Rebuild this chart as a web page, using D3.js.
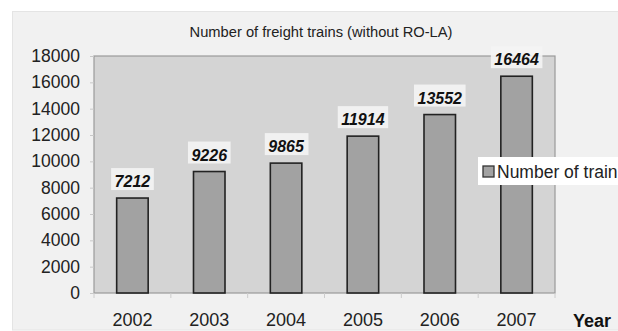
<!DOCTYPE html>
<html>
<head>
<meta charset="utf-8">
<script src="https://cdn.jsdelivr.net/npm/d3@7/dist/d3.min.js"></script>
<style>
  html, body { margin: 0; padding: 0; background: #ffffff; }
  svg { display: block; font-family: "Liberation Sans", Arial, sans-serif; }
</style>
</head>
<body>
<svg id="chart" width="618" height="331"></svg>
<script>
// Freight trains per year (without RO-LA)
const years = ["2002", "2003", "2004", "2005", "2006", "2007"];
const trains = [7212, 9226, 9865, 11914, 13552, 16464];
const yTicks = [0, 2000, 4000, 6000, 8000, 10000, 12000, 14000, 16000, 18000];
const titleText = "Number of freight trains (without RO-LA)";
const legendText = "Number of train";
const xAxisTitle = "Year";

const svg = d3.select("#chart");
const W = 618, H = 331;
const plot = { left: 94, top: 56, right: 555, bottom: 293 };

// outer panel
svg.append("rect")
  .attr("x", 12.5).attr("y", 11.5)
  .attr("width", W - 12).attr("height", H - 12.5)
  .attr("fill", "#f1f1f1")
  .attr("stroke", "#e4e4e4").attr("stroke-width", 1);

const x = d3.scaleBand().domain(years).range([plot.left, plot.right]).paddingInner(0).paddingOuter(0);
const y = d3.scaleLinear().domain([0, 18000]).range([plot.bottom, plot.top]);

// plot area
svg.append("rect")
  .attr("x", plot.left).attr("y", plot.top)
  .attr("width", plot.right - plot.left).attr("height", plot.bottom - plot.top)
  .attr("fill", "#d4d4d4")
  .attr("stroke", "#9a9a9a").attr("stroke-width", 1.2);

// title
svg.append("text")
  .attr("x", 321).attr("y", 37)
  .attr("text-anchor", "middle")
  .attr("font-size", 14.7).attr("fill", "#222")
  .text(titleText);

// y axis
const yAxis = d3.axisLeft(y).tickValues(yTicks).tickSize(4).tickPadding(10).tickFormat(d3.format("d"));
const gy = svg.append("g").attr("transform", `translate(${plot.left},0)`).call(yAxis);
gy.select(".domain").remove();
gy.selectAll(".tick line").attr("stroke", "#c8c8c8");
gy.selectAll(".tick text")
  .attr("font-size", 17.5).attr("fill", "#222")
  .attr("font-family", "'Liberation Sans', Arial, sans-serif");

// x axis
const xAxis = d3.axisBottom(x).tickSize(0).tickPadding(20);
const gx = svg.append("g").attr("transform", `translate(0,${plot.bottom})`).call(xAxis);
gx.select(".domain").remove();
gx.selectAll(".tick text")
  .attr("font-size", 18).attr("fill", "#222")
  .attr("font-family", "'Liberation Sans', Arial, sans-serif");

// small separators under the category boundaries
svg.append("g").selectAll("line")
  .data(years.concat(["end"]))
  .join("line")
  .attr("x1", (d, i) => plot.left + i * x.step())
  .attr("x2", (d, i) => plot.left + i * x.step())
  .attr("y1", plot.bottom).attr("y2", plot.bottom + 5)
  .attr("stroke", "#cccccc").attr("stroke-width", 1);

svg.append("text")
  .attr("x", 573).attr("y", 327)
  .attr("font-size", 18).attr("font-weight", "bold").attr("fill", "#111")
  .text(xAxisTitle);

// bars
const barW = x.bandwidth() * 0.41;
svg.append("g").selectAll("rect")
  .data(trains)
  .join("rect")
  .attr("x", (d, i) => x(years[i]) + (x.bandwidth() - barW) / 2)
  .attr("y", d => y(d))
  .attr("width", barW)
  .attr("height", d => y(0) - y(d))
  .attr("fill", "#a2a2a2")
  .attr("stroke", "#222").attr("stroke-width", 1.6);

// value labels on a light backing
const labels = svg.append("g").selectAll("g")
  .data(trains)
  .join("g")
  .attr("transform", (d, i) => `translate(${x(years[i]) + x.bandwidth() / 2},${y(d) - 11})`);
labels.append("text")
  .attr("text-anchor", "middle").attr("y", 0)
  .attr("font-size", 16).attr("font-weight", "bold").attr("font-style", "italic")
  .attr("fill", "#111")
  .text(d => d3.format("d")(d))
  .each(function () {
    const bb = this.getBBox();
    d3.select(this.parentNode).insert("rect", "text")
      .attr("x", bb.x - 3.5).attr("y", -19)
      .attr("width", bb.width + 7).attr("height", 22)
      .attr("fill", "#f4f4f4").attr("opacity", 0.9);
  });

// legend
const lg = svg.append("g").attr("transform", "translate(478,157)");
lg.append("rect").attr("x", 0).attr("y", 0).attr("width", 150).attr("height", 28)
  .attr("fill", "#ffffff");
lg.append("rect").attr("x", 5).attr("y", 9).attr("width", 11).attr("height", 11)
  .attr("fill", "#a2a2a2").attr("stroke", "#333").attr("stroke-width", 1.3);
lg.append("text").attr("x", 19).attr("y", 21)
  .attr("font-size", 17.5).attr("fill", "#222")
  .text(legendText);
</script>
</body>
</html>
